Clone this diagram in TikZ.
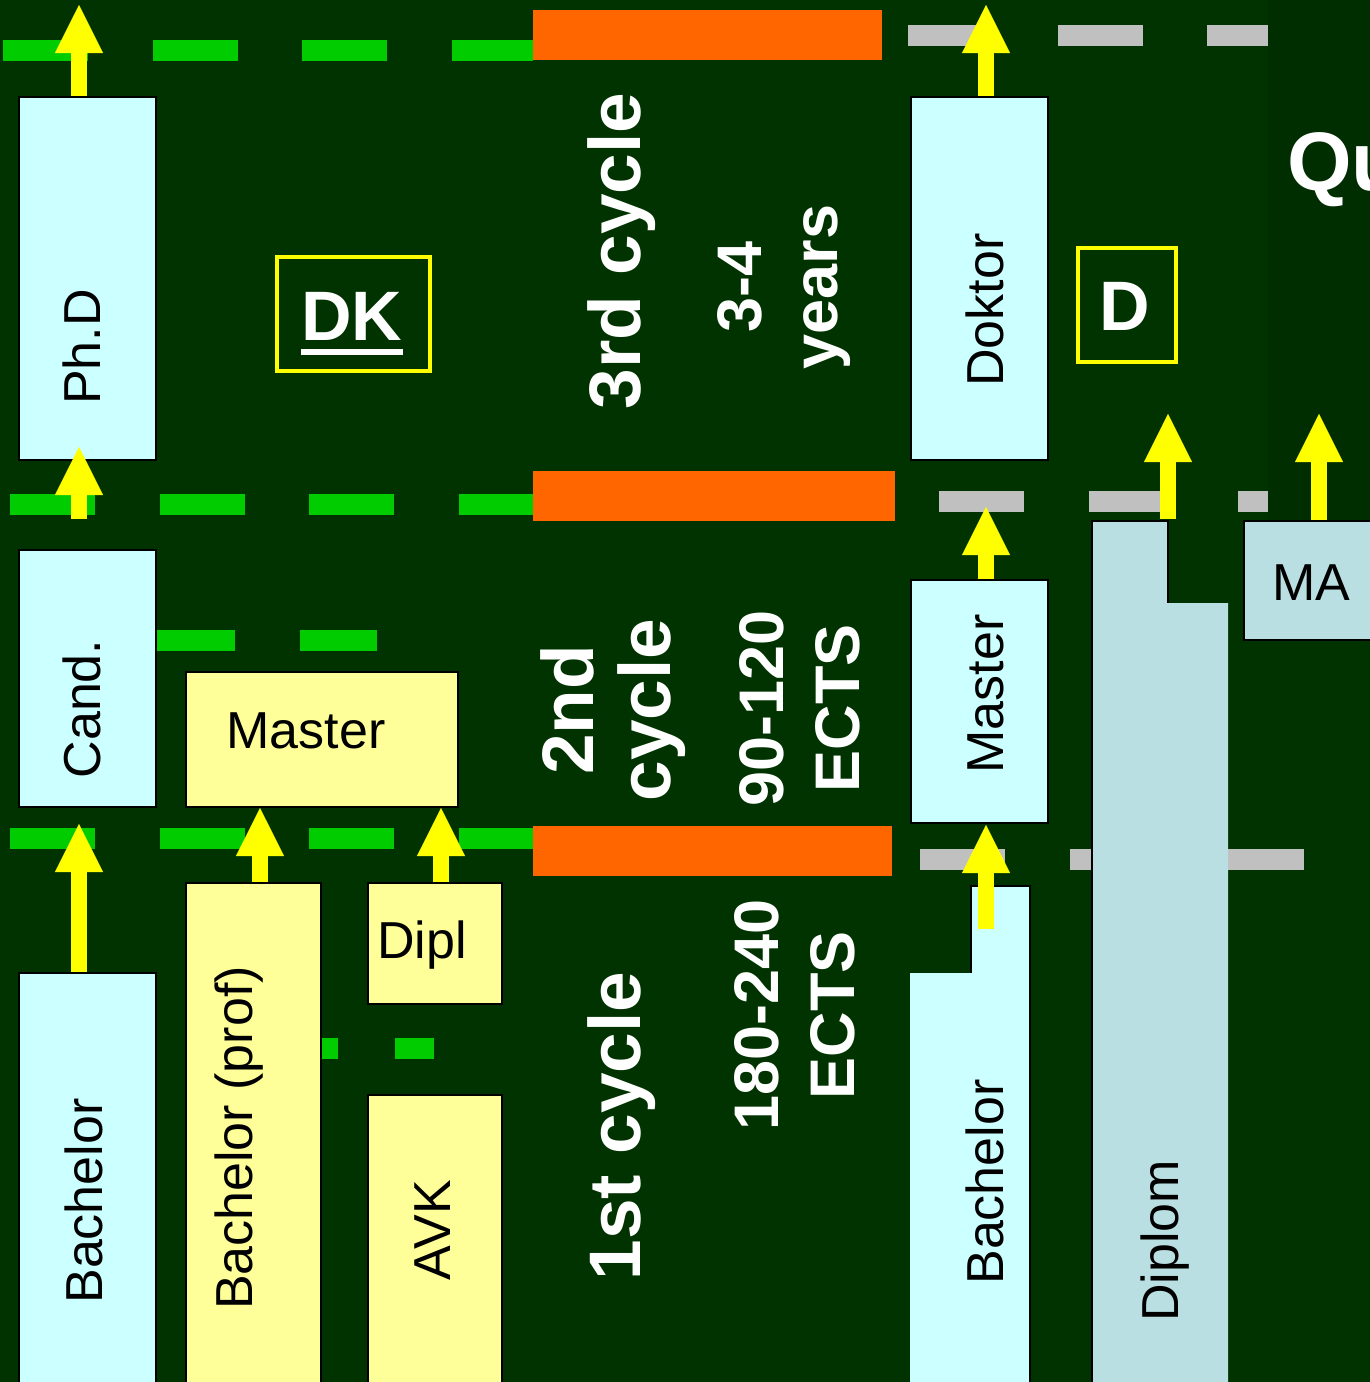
\documentclass[tikz,border=0pt]{standalone}
\usepackage{fontspec}
\setmainfont{Liberation Sans}
\usetikzlibrary{arrows.meta,calc}
\definecolor{bgcolor}{HTML}{003300}
\definecolor{stripcolor}{HTML}{002E00}
\definecolor{cyanbox}{HTML}{CCFFFF}
\definecolor{yellowbox}{HTML}{FFFF99}
\definecolor{bluebox}{HTML}{B9DFE3}
\definecolor{dashgreen}{HTML}{00CC00}
\definecolor{dashgrey}{HTML}{C0C0C0}
\definecolor{barorange}{HTML}{FF6600}
\definecolor{arrowyellow}{HTML}{FFFF00}

\begin{document}
\begin{tikzpicture}[x=1pt, y=-1pt,
    cbox/.style={draw=black, line width=2pt, fill=cyanbox, inner sep=0pt, anchor=north west},
    ybox/.style={cbox, fill=yellowbox},
    bbox/.style={cbox, fill=bluebox},
    keybox/.style={draw=arrowyellow, line width=3.5pt, inner sep=0pt, anchor=north west},
    lbl/.style={font=\fontsize{52}{60}\selectfont, inner sep=0pt, anchor=base},
    vlbl/.style={lbl, rotate=90},
    keylbl/.style={text=white, font=\bfseries\fontsize{70}{80}\selectfont, inner sep=0pt, anchor=base},
    cyc/.style={text=white, font=\bfseries\fontsize{73}{77}\selectfont, inner sep=0pt, rotate=90, align=center},
    ects/.style={cyc, font=\bfseries\fontsize{63}{76}\selectfont},
    arr/.style={draw=arrowyellow, line width=16pt, -{Triangle[width=48pt, length=48pt, line width=0.1pt]}},
    gdash/.style={draw=dashgreen, line width=21pt, dash pattern=on 85pt off 64.5pt},
    sdash/.style={gdash, draw=dashgrey}
]
\clip (0,0) rectangle (1370,1382);
\useasboundingbox (0,0) rectangle (1370,1382);
\fill[bgcolor] (0,0) rectangle (1370,1382);
\fill[stripcolor] (1268,0) rectangle (1370,520);

\draw[gdash] (3,50.5) -- (533,50.5);
\draw[gdash] (10,504.5) -- (533,504.5);
\draw[gdash] (10,838.5) -- (533,838.5);
\draw[gdash, dash pattern=on 80pt off 65pt] (155,640) -- (377,640);
\draw[gdash, dash pattern=on 80pt off 57pt] (258,1048.5) -- (434,1048.5);
\draw[sdash] (908,35) -- (1268,35);
\draw[sdash] (939,501.5) -- (1268,501.5);
\draw[sdash] (920,859.5) -- (1304,859.5);

\fill[barorange] (533,10) rectangle (882,60);
\fill[barorange] (533,471) rectangle (895,521);
\fill[barorange] (533,826) rectangle (892,876);

\node[cbox, minimum width=137pt, minimum height=363pt] (phd) at (18,96) {};
\node[cbox, minimum width=137pt, minimum height=257pt] (cand) at (18,549) {};
\node[cbox, minimum width=137pt, minimum height=420pt] (bachL) at (18,972) {};
\node[ybox, minimum width=272pt, minimum height=135pt] (mastY) at (185,671) {};
\node[ybox, minimum width=135pt, minimum height=510pt] (bprof) at (185,882) {};
\node[ybox, minimum width=134pt, minimum height=121pt] (dipl) at (367,882) {};
\node[ybox, minimum width=134pt, minimum height=300pt] (avk) at (367,1094) {};
\node[cbox, minimum width=137pt, minimum height=363pt] (dok) at (910,96) {};
\node[cbox, minimum width=137pt, minimum height=243pt] (mastR) at (910,579) {};
\node[bbox, minimum width=152pt, minimum height=119pt] (ma) at (1243,520) {};
\node[keybox, minimum width=153pt, minimum height=114pt] (dkbox) at (275,255) {};
\node[keybox, minimum width=98pt, minimum height=114pt] (dbox) at (1076,246) {};

\fill[cyanbox] (971,886) -- (1030,886) -- (1030,1382) -- (910,1382) -- (910,973) -- (971,973) -- cycle;
\draw[line width=2pt] (971,973) -- (971,886) -- (1030,886) -- (1030,1390);
\fill[bluebox] (1092,521) -- (1168,521) -- (1168,603) -- (1228,603) -- (1228,1382) -- (1092,1382) -- cycle;
\draw[line width=2pt] (1092,1390) -- (1092,521) -- (1168,521) -- (1168,603);
\coordinate (dipTop) at (1092,521);

\coordinate (cA) at (79,0);
\coordinate (cB) at (260,0);
\coordinate (cC) at (441,0);
\coordinate (cD) at (986,0);
\coordinate (cE) at (1168,0);
\coordinate (cF) at (1319,0);
\draw[arr] (cA |- phd.north) -- ($(cA)+(0,5)$);
\draw[arr] ($(cA |- cand.north)+(0,-30)$) -- ($(cA |- phd.south)+(0,-14)$);
\draw[arr] (cA |- bachL.north) -- ($(cA |- cand.south)+(0,16)$);
\draw[arr] (cB |- bprof.north) -- (cB |- mastY.south);
\draw[arr] (cC |- dipl.north) -- (cC |- mastY.south);
\draw[arr] (cD |- dok.north) -- ($(cD)+(0,5)$);
\draw[arr] (cD |- mastR.north) -- ($(cD |- dok.south)+(0,46)$);
\draw[arr] ($(cD |- mastR.south)+(0,105)$) -- ($(cD |- mastR.south)+(0,1)$);
\draw[arr] ($(cE |- dipTop)+(0,-2)$) -- ($(cE |- dipTop)+(0,-107)$);
\draw[arr] (cF |- ma.north) -- ($(cF |- ma.north)+(0,-106)$);

\node[vlbl] (phdT) at (100,347) {Ph.D};
\node[vlbl] (candT) at (100,709) {Cand.};
\node[vlbl] (bachLT) at (102,1201) {Bachelor};
\node[lbl] (mastYT) at (306,748) {Master};
\node[vlbl] (bprofT) at (252,1138) {Bachelor (prof)};
\node[lbl] (diplT) at (422,958) {Dipl};
\node[vlbl] (avkT) at (450,1230) {AVK};
\node[vlbl] (dokT) at (1003,310) {Doktor};
\node[vlbl] (mastRT) at (1003,694) {Master};
\node[vlbl] (bachRT) at (1003,1182) {Bachelor};
\node[vlbl] (diplomT) at (1178,1241) {Diplom};
\node[lbl] (maT) at (1311,600) {MA};

\node[keylbl] (dk) at (352,340) {DK};
\draw[white, line width=6pt] ([yshift=-12pt]dk.base west) -- ([yshift=-12pt]dk.base east);
\node[keylbl] (d) at (1125,330) {D};

\node[cyc, anchor=base] (third) at (640,251) {3rd cycle};
\node[ects] (third-len) at (784,287) {3-4\\years};
\node[cyc] (second) at (613,710) {2nd\\cycle};
\node[ects] (second-len) at (800,708) {90-120\\ECTS};
\node[cyc, anchor=base] (first) at (640,1126) {1st cycle};
\node[ects] (first-len) at (795,1015) {180-240\\ECTS};
\node[text=white, font=\bfseries\fontsize{83}{90}\selectfont, inner sep=0pt, anchor=base west] (qu) at (1287,190) {Qu};
\end{tikzpicture}
\end{document}
